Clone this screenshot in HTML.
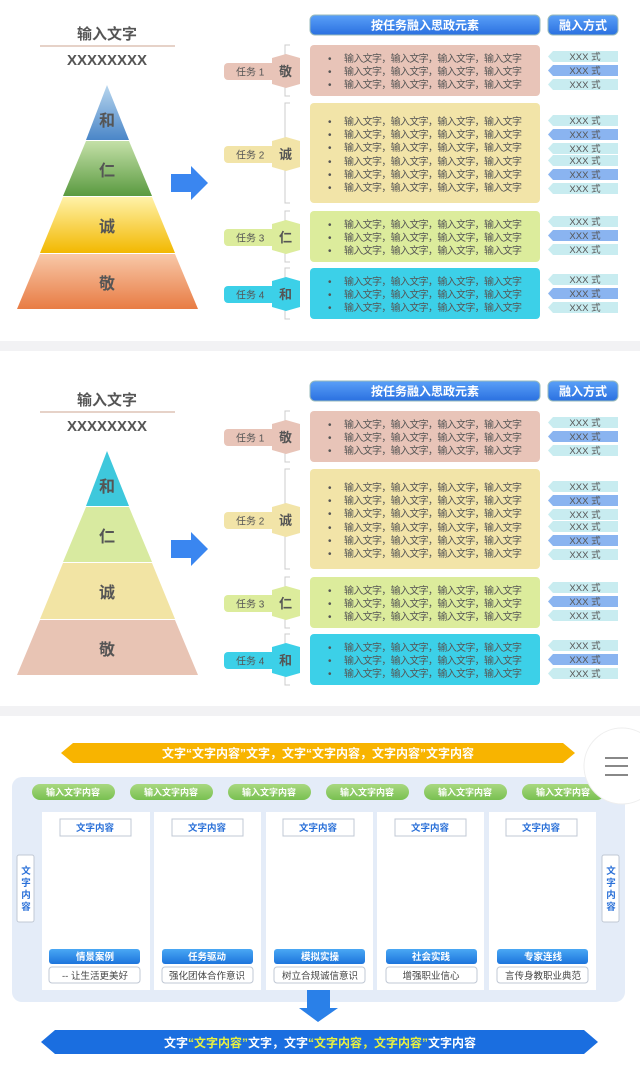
<!DOCTYPE html>
<html><head><meta charset="utf-8"><style>
body{margin:0;background:#fff;}
svg{display:block;font-family:"Liberation Sans","Noto Sans CJK SC",sans-serif;}
.t{font-size:10px;fill:#555;}
.x{font-size:9.5px;fill:#555;}
</style></head><body>
<svg width="640" height="1068" viewBox="0 0 640 1068" xmlns="http://www.w3.org/2000/svg" xmlns:xlink="http://www.w3.org/1999/xlink">
<defs>
<linearGradient id="g1" x1="0" y1="0" x2="0" y2="1"><stop offset="0" stop-color="#b8d6ee"/><stop offset="1" stop-color="#4a86c8"/></linearGradient>
<linearGradient id="g2" x1="0" y1="0" x2="0" y2="1"><stop offset="0" stop-color="#c4e0a8"/><stop offset="1" stop-color="#5a9a40"/></linearGradient>
<linearGradient id="g3" x1="0" y1="0" x2="0" y2="1"><stop offset="0" stop-color="#fff2a8"/><stop offset="1" stop-color="#f2b800"/></linearGradient>
<linearGradient id="g4" x1="0" y1="0" x2="0" y2="1"><stop offset="0" stop-color="#f8c8a8"/><stop offset="1" stop-color="#e87c44"/></linearGradient>
<linearGradient id="hb" x1="0" y1="0" x2="0" y2="1"><stop offset="0" stop-color="#5aa0f8"/><stop offset="1" stop-color="#2a70e0"/></linearGradient>
<linearGradient id="gp" x1="0" y1="0" x2="0" y2="1"><stop offset="0" stop-color="#a8d880"/><stop offset="1" stop-color="#78c050"/></linearGradient>
<linearGradient id="bl" x1="0" y1="0" x2="0" y2="1"><stop offset="0" stop-color="#4aa8f4"/><stop offset="1" stop-color="#1c74dc"/></linearGradient>
</defs>

<g id="right">
 <rect x="310" y="15" width="230" height="20" rx="5" fill="url(#hb)" stroke="#9bb" stroke-width="1"/>
 <text x="425" y="29.5" text-anchor="middle" font-size="12" font-weight="bold" fill="#fff">按任务融入思政元素</text>
 <rect x="548" y="15" width="70" height="20" rx="5" fill="url(#hb)" stroke="#9bb" stroke-width="1"/>
 <text x="583" y="29.5" text-anchor="middle" font-size="12" font-weight="bold" fill="#fff">融入方式</text>
 <g stroke="#ccc" fill="none" stroke-width="1">
  <path d="M290 45 H285 V96 H290"/><path d="M290 103 H285 V203 H290"/><path d="M290 211 H285 V262 H290"/><path d="M290 268 H285 V319 H290"/>
 </g>
 <rect x="224" y="63" width="60" height="17" rx="4" fill="#e8c4b8"/><polygon points="272,58 286,54 300,58 300,84 286,88 272,84" fill="#e8c4b8"/>
 <text x="236" y="75.5" font-size="10" fill="#555">任务 1</text><text x="279" y="76" font-size="13" font-weight="bold" fill="#555">敬</text>
 <rect x="224" y="146" width="60" height="17" rx="4" fill="#f2e4a8"/><polygon points="272,141 286,137 300,141 300,167 286,171 272,167" fill="#f2e4a8"/>
 <text x="236" y="158.5" font-size="10" fill="#555">任务 2</text><text x="279" y="159" font-size="13" font-weight="bold" fill="#555">诚</text>
 <rect x="224" y="229" width="60" height="17" rx="4" fill="#dcec9c"/><polygon points="272,224 286,220 300,224 300,250 286,254 272,250" fill="#dcec9c"/>
 <text x="236" y="241.5" font-size="10" fill="#555">任务 3</text><text x="279" y="242" font-size="13" font-weight="bold" fill="#555">仁</text>
 <rect x="224" y="286" width="60" height="17" rx="4" fill="#3cd0e8"/><polygon points="272,281 286,277 300,281 300,307 286,311 272,307" fill="#3cd0e8"/>
 <text x="236" y="298.5" font-size="10" fill="#555">任务 4</text><text x="279" y="299" font-size="13" font-weight="bold" fill="#555">和</text>
 <rect x="310" y="45" width="230" height="51" rx="4" fill="#e8c4b8"/>
 <rect x="310" y="103" width="230" height="100" rx="4" fill="#f2e4a8"/>
 <rect x="310" y="211" width="230" height="51" rx="4" fill="#dcec9c"/>
 <rect x="310" y="268" width="230" height="51" rx="4" fill="#3cd0e8"/>
 <g class="t">
  <text x="328" y="62">•</text><text x="344" y="62" textLength="178">输入文字，输入文字，输入文字，输入文字</text>
  <text x="328" y="75">•</text><text x="344" y="75" textLength="178">输入文字，输入文字，输入文字，输入文字</text>
  <text x="328" y="88">•</text><text x="344" y="88" textLength="178">输入文字，输入文字，输入文字，输入文字</text>
  <text x="328" y="125">•</text><text x="344" y="125" textLength="178">输入文字，输入文字，输入文字，输入文字</text>
  <text x="328" y="138">•</text><text x="344" y="138" textLength="178">输入文字，输入文字，输入文字，输入文字</text>
  <text x="328" y="151">•</text><text x="344" y="151" textLength="178">输入文字，输入文字，输入文字，输入文字</text>
  <text x="328" y="165">•</text><text x="344" y="165" textLength="178">输入文字，输入文字，输入文字，输入文字</text>
  <text x="328" y="178">•</text><text x="344" y="178" textLength="178">输入文字，输入文字，输入文字，输入文字</text>
  <text x="328" y="191">•</text><text x="344" y="191" textLength="178">输入文字，输入文字，输入文字，输入文字</text>
  <text x="328" y="228">•</text><text x="344" y="228" textLength="178">输入文字，输入文字，输入文字，输入文字</text>
  <text x="328" y="241">•</text><text x="344" y="241" textLength="178">输入文字，输入文字，输入文字，输入文字</text>
  <text x="328" y="254">•</text><text x="344" y="254" textLength="178">输入文字，输入文字，输入文字，输入文字</text>
  <text x="328" y="285">•</text><text x="344" y="285" textLength="178">输入文字，输入文字，输入文字，输入文字</text>
  <text x="328" y="298">•</text><text x="344" y="298" textLength="178">输入文字，输入文字，输入文字，输入文字</text>
  <text x="328" y="311">•</text><text x="344" y="311" textLength="178">输入文字，输入文字，输入文字，输入文字</text>
 </g>
 <g>
  <polygon points="553,51 618,51 618,62 553,62 548,56.5" fill="#c8ecf0"/>
  <polygon points="553,65 618,65 618,76 553,76 548,70.5" fill="#8ab4f0"/>
  <polygon points="553,79 618,79 618,90 553,90 548,84.5" fill="#c8ecf0"/>
  <polygon points="553,115 618,115 618,126 553,126 548,120.5" fill="#c8ecf0"/>
  <polygon points="553,129 618,129 618,140 553,140 548,134.5" fill="#8ab4f0"/>
  <polygon points="553,143 618,143 618,154 553,154 548,148.5" fill="#c8ecf0"/>
  <polygon points="553,155 618,155 618,166 553,166 548,160.5" fill="#c8ecf0"/>
  <polygon points="553,169 618,169 618,180 553,180 548,174.5" fill="#8ab4f0"/>
  <polygon points="553,183 618,183 618,194 553,194 548,188.5" fill="#c8ecf0"/>
  <polygon points="553,216 618,216 618,227 553,227 548,221.5" fill="#c8ecf0"/>
  <polygon points="553,230 618,230 618,241 553,241 548,235.5" fill="#8ab4f0"/>
  <polygon points="553,244 618,244 618,255 553,255 548,249.5" fill="#c8ecf0"/>
  <polygon points="553,274 618,274 618,285 553,285 548,279.5" fill="#c8ecf0"/>
  <polygon points="553,288 618,288 618,299 553,299 548,293.5" fill="#8ab4f0"/>
  <polygon points="553,302 618,302 618,313 553,313 548,307.5" fill="#c8ecf0"/>
 </g>
 <g class="x" text-anchor="middle">
  <text x="585" y="60">XXX 式</text><text x="585" y="74">XXX 式</text><text x="585" y="88">XXX 式</text>
  <text x="585" y="124">XXX 式</text><text x="585" y="138">XXX 式</text><text x="585" y="152">XXX 式</text><text x="585" y="164">XXX 式</text><text x="585" y="178">XXX 式</text><text x="585" y="192">XXX 式</text>
  <text x="585" y="225">XXX 式</text><text x="585" y="239">XXX 式</text><text x="585" y="253">XXX 式</text>
  <text x="585" y="283">XXX 式</text><text x="585" y="297">XXX 式</text><text x="585" y="311">XXX 式</text>
 </g>
 <text x="107" y="39" text-anchor="middle" font-size="15" font-weight="bold" fill="#555">输入文字</text>
 <line x1="40" y1="46" x2="175" y2="46" stroke="#d8b8a8" stroke-width="1.2"/>
 <text x="107" y="65" text-anchor="middle" font-size="15" font-weight="bold" fill="#555">XXXXXXXX</text>
 <polygon points="171,174 191,174 191,166 208,183 191,200 191,192 171,192" fill="#3a86f0"/>
</g>
<use href="#right" xlink:href="#right" x="0" y="366"/>

<polygon points="107,85 129,140 86,140" fill="url(#g1)"/>
<polygon points="86,141 129,141 152,196 63,196" fill="url(#g2)"/>
<polygon points="63,197 152,197 175,253 40,253" fill="url(#g3)"/>
<polygon points="40,254 175,254 198,309 17,309" fill="url(#g4)"/>
<g font-size="16" font-weight="bold" fill="#555" text-anchor="middle">
<text x="107" y="126">和</text><text x="107" y="176">仁</text><text x="107" y="232">诚</text><text x="107" y="289">敬</text>
</g>
<polygon points="107,451 129,506 86,506" fill="#3ec8dc"/>
<polygon points="86,507 129,507 152,562 63,562" fill="#d8eaa0"/>
<polygon points="63,563 152,563 175,619 40,619" fill="#f2e4a4"/>
<polygon points="40,620 175,620 198,675 17,675" fill="#e8c4b4"/>
<g font-size="16" font-weight="bold" fill="#555" text-anchor="middle">
<text x="107" y="492">和</text><text x="107" y="542">仁</text><text x="107" y="598">诚</text><text x="107" y="655">敬</text>
</g>

<rect x="0" y="341" width="640" height="10" fill="#f2f2f4"/>
<rect x="0" y="706" width="640" height="10" fill="#f2f2f4"/>

<polygon points="61,753 73,743 563,743 575,753 563,763 73,763" fill="#f8b400"/>
<text x="318" y="757.5" text-anchor="middle" font-size="12" font-weight="bold" fill="#fff">文字“文字内容”文字，文字“文字内容，文字内容”文字内容</text>
<rect x="12" y="777" width="613" height="225" rx="10" fill="#e4ecf8"/>
<g font-size="9" font-weight="bold" fill="#fff" text-anchor="middle">
 <rect x="32" y="784" width="83" height="16" rx="8" fill="url(#gp)"/><text x="73" y="795.5">输入文字内容</text>
 <rect x="130" y="784" width="83" height="16" rx="8" fill="url(#gp)"/><text x="171" y="795.5">输入文字内容</text>
 <rect x="228" y="784" width="83" height="16" rx="8" fill="url(#gp)"/><text x="269" y="795.5">输入文字内容</text>
 <rect x="326" y="784" width="83" height="16" rx="8" fill="url(#gp)"/><text x="367" y="795.5">输入文字内容</text>
 <rect x="424" y="784" width="83" height="16" rx="8" fill="url(#gp)"/><text x="465" y="795.5">输入文字内容</text>
 <rect x="522" y="784" width="83" height="16" rx="8" fill="url(#gp)"/><text x="563" y="795.5">输入文字内容</text>
</g>
<g>
 <rect x="42" y="812" width="108" height="178" fill="#fff"/>
 <rect x="154" y="812" width="107" height="178" fill="#fff"/>
 <rect x="266" y="812" width="107" height="178" fill="#fff"/>
 <rect x="377" y="812" width="107" height="178" fill="#fff"/>
 <rect x="489" y="812" width="107" height="178" fill="#fff"/>
</g>
<g fill="#fff" stroke="#c0c8d4" stroke-width="1">
 <rect x="60" y="819" width="71" height="17"/><rect x="172" y="819" width="71" height="17"/><rect x="283" y="819" width="71" height="17"/><rect x="395" y="819" width="71" height="17"/><rect x="506" y="819" width="71" height="17"/>
 <rect x="49" y="967" width="91" height="16" rx="3"/><rect x="162" y="967" width="91" height="16" rx="3"/><rect x="274" y="967" width="91" height="16" rx="3"/><rect x="386" y="967" width="91" height="16" rx="3"/><rect x="497" y="967" width="91" height="16" rx="3"/>
 <rect x="17" y="855" width="17" height="67" rx="2"/><rect x="602" y="855" width="17" height="67" rx="2"/>
</g>
<g font-size="9.5" font-weight="bold" fill="#2a70d8" text-anchor="middle">
 <text x="95" y="831">文字内容</text><text x="207" y="831">文字内容</text><text x="318" y="831">文字内容</text><text x="430" y="831">文字内容</text><text x="541" y="831">文字内容</text>
 <text x="26" y="874">文</text><text x="26" y="886">字</text><text x="26" y="898">内</text><text x="26" y="910">容</text>
 <text x="611" y="874">文</text><text x="611" y="886">字</text><text x="611" y="898">内</text><text x="611" y="910">容</text>
</g>
<g font-size="9.5" font-weight="bold" fill="#fff" text-anchor="middle">
 <rect x="49" y="949" width="91" height="15" rx="3" fill="url(#bl)"/><text x="95" y="960">情景案例</text>
 <rect x="162" y="949" width="91" height="15" rx="3" fill="url(#bl)"/><text x="207" y="960">任务驱动</text>
 <rect x="274" y="949" width="91" height="15" rx="3" fill="url(#bl)"/><text x="320" y="960">模拟实操</text>
 <rect x="386" y="949" width="91" height="15" rx="3" fill="url(#bl)"/><text x="431" y="960">社会实践</text>
 <rect x="497" y="949" width="91" height="15" rx="3" fill="url(#bl)"/><text x="543" y="960">专家连线</text>
</g>
<g font-size="9.5" fill="#444" text-anchor="middle">
 <text x="95" y="979">-- 让生活更美好</text><text x="207" y="979">强化团体合作意识</text><text x="320" y="979">树立合规诚信意识</text><text x="431" y="979">增强职业信心</text><text x="543" y="979">言传身教职业典范</text>
</g>
<polygon points="307,990 330,990 330,1008 338,1008 318,1022 299,1008 307,1008" fill="#2a80e8"/>
<polygon points="41,1042 55,1030 584,1030 598,1042 584,1054 55,1054" fill="#1a6ee0"/>
<text x="320" y="1047" text-anchor="middle" font-size="12" font-weight="bold" fill="#fff">文字<tspan fill="#e8f040">“文字内容”</tspan>文字，文字<tspan fill="#e8f040">“文字内容，文字内容”</tspan>文字内容</text>
<circle cx="622" cy="766" r="38" fill="#fff" stroke="#eee"/>
<g stroke="#888" stroke-width="2"><line x1="605" y1="758" x2="628" y2="758"/><line x1="605" y1="766" x2="628" y2="766"/><line x1="605" y1="775" x2="628" y2="775"/></g>
</svg>
</body></html>
